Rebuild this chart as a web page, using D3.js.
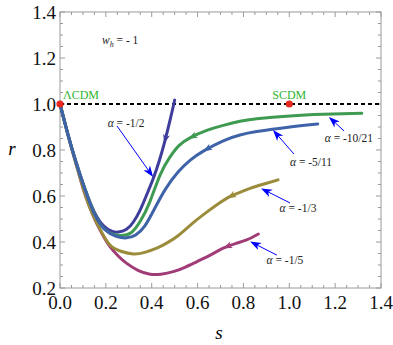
<!DOCTYPE html>
<html><head><meta charset="utf-8">
<script src="https://cdn.jsdelivr.net/npm/d3@7"></script>
<style>body{margin:0;background:#fff}svg{display:block}</style>
</head><body><svg id="c" width="393" height="345" font-family="Liberation Serif"></svg>
<script>
// ---- data ----
const xTicks = [0.0,0.2,0.4,0.6,0.8,1.0,1.2,1.4];
const yTicks = [0.2,0.4,0.6,0.8,1.0,1.2,1.4];
const seriesNames = ["-1/5","-1/3","-1/2","-10/21","-5/11"];
const seriesColors = ["#a03c78","#9b8c3c","#3e3d9c","#3f9a52","#3e63a8"];
const sMagenta = [0,0.035,0.07,0.1,0.13,0.16,0.19,0.218,0.255,0.291,0.34,0.393,0.44,0.494,0.545,0.596,0.655,0.712,0.765,0.814,0.865];
const rMagenta = [1,0.865,0.74,0.635,0.55,0.481,0.424,0.38,0.338,0.307,0.277,0.26,0.26,0.271,0.29,0.314,0.343,0.373,0.393,0.409,0.435];
const sOlive = [0,0.035,0.07,0.1,0.131,0.175,0.218,0.265,0.32,0.37,0.422,0.465,0.509,0.55,0.596,0.64,0.683,0.741,0.785,0.829,0.89,0.951];
const rOlive = [1,0.865,0.74,0.64,0.547,0.455,0.387,0.36,0.348,0.355,0.373,0.395,0.423,0.457,0.496,0.53,0.561,0.597,0.616,0.633,0.652,0.67];
const sPurple = [0,0.035,0.07,0.11,0.15,0.19,0.225,0.254,0.29,0.32,0.35,0.38,0.41,0.435,0.455,0.48,0.5];
const rPurple = [1,0.867,0.748,0.628,0.53,0.47,0.447,0.443,0.455,0.487,0.54,0.61,0.685,0.76,0.83,0.93,1.017];
const sGreen = [0,0.035,0.07,0.11,0.15,0.19,0.235,0.269,0.31,0.35,0.39,0.436,0.48,0.52,0.567,0.64,0.712,0.785,0.858,1.003,1.148,1.316];
const rGreen = [1,0.866,0.746,0.626,0.525,0.46,0.433,0.428,0.44,0.49,0.57,0.69,0.77,0.82,0.853,0.885,0.907,0.925,0.936,0.948,0.955,0.96];
const sBlue = [0,0.035,0.07,0.11,0.15,0.195,0.245,0.291,0.33,0.37,0.41,0.46,0.516,0.567,0.625,0.712,0.785,0.858,1.003,1.124];
const rBlue = [1,0.866,0.746,0.626,0.522,0.455,0.425,0.418,0.43,0.47,0.54,0.63,0.705,0.755,0.795,0.84,0.865,0.88,0.9,0.913];
const arrowS = [0.712,0.73,0.455,0.56,0.625];
// annotations: label centre, arrow start, arrow tip (data units)
const annLabelS = [0.981,1.038,0.288,1.26,1.095];
const annLabelR = [0.322,0.548,0.917,0.852,0.748];
const annFromS = [0.946,1.003,0.249,1.239,1.02];
const annFromR = [0.343,0.57,0.904,0.883,0.783];
const annToS = [0.829,0.877,0.406,1.173,0.929];
const annToR = [0.402,0.633,0.683,0.943,0.887];
const pointNames = ["\u039BCDM","SCDM"];
const pointS = [0,1];
const pointR = [1,1];

// ---- layout ----
const W=393,H=345,m={l:60,r:12,t:12,b:57};
const svg=d3.select("#c");
svg.append("rect").attr("width",W).attr("height",H).attr("fill","#fff");
const x=d3.scaleLinear().domain([0,1.4]).range([m.l,W-m.r]);
const y=d3.scaleLinear().domain([0.2,1.4]).range([H-m.b,m.t]);
const minorX=d3.range(0,1.4001,0.05), minorY=d3.range(0.2,1.4001,0.05);

const g=svg.append("g");
g.append("rect").attr("x",x(0)).attr("y",y(1.4)).attr("width",x(1.4)-x(0)).attr("height",y(0.2)-y(1.4))
 .attr("fill","none").attr("stroke","#9a9a9a").attr("stroke-width",1);
function isMajor(v,arr){return arr.some(t=>Math.abs(t-v)<1e-6);}
const tc="#9a9a9a";
minorX.forEach(v=>{const L=isMajor(v,xTicks)?5:3;
  g.append("line").attr("x1",x(v)).attr("x2",x(v)).attr("y1",y(0.2)).attr("y2",y(0.2)-L).attr("stroke",tc);
  g.append("line").attr("x1",x(v)).attr("x2",x(v)).attr("y1",y(1.4)).attr("y2",y(1.4)+L).attr("stroke",tc);});
minorY.forEach(v=>{const L=isMajor(v,yTicks)?5:3;
  g.append("line").attr("y1",y(v)).attr("y2",y(v)).attr("x1",x(0)).attr("x2",x(0)+L).attr("stroke",tc);
  g.append("line").attr("y1",y(v)).attr("y2",y(v)).attr("x1",x(1.4)).attr("x2",x(1.4)-L).attr("stroke",tc);});
xTicks.forEach(v=>g.append("text").attr("x",x(v)).attr("y",y(0.2)+21).attr("text-anchor","middle")
  .attr("font-size",19).attr("fill","#111").text(v.toFixed(1)));
yTicks.forEach(v=>g.append("text").attr("x",x(0)-4).attr("y",y(v)+7).attr("text-anchor","end")
  .attr("font-size",19).attr("fill","#111").text(v.toFixed(1)));
svg.append("text").attr("x",219).attr("y",339).attr("text-anchor","middle").attr("font-size",19)
  .attr("font-style","italic").text("s");
svg.append("text").attr("x",12).attr("y",155).attr("text-anchor","middle").attr("font-size",19)
  .attr("font-style","italic").text("r");

g.append("line").attr("x1",x(0)).attr("x2",x(1.4)).attr("y1",y(1)).attr("y2",y(1))
 .attr("stroke","#000").attr("stroke-width",2).attr("stroke-dasharray","4,3");

const S=[sMagenta,sOlive,sPurple,sGreen,sBlue], R=[rMagenta,rOlive,rPurple,rGreen,rBlue];
const line=d3.line().x(d=>x(d[0])).y(d=>y(d[1])).curve(d3.curveNatural);
function arrowHead(sel,tip,dir,len,wid,notch,color){
  const a=Math.atan2(dir[1],dir[0])*180/Math.PI;
  sel.append("path").attr("d",`M0,0L${-len},${-wid/2}L${-len+notch},0L${-len},${wid/2}Z`)
   .attr("fill",color).attr("transform",`translate(${tip[0]},${tip[1]}) rotate(${a})`);
}
S.forEach((s,i)=>{
  const pts=s.map((v,j)=>[v,R[i][j]]);
  const p=g.append("path").attr("d",line(pts)).attr("fill","none").attr("stroke",seriesColors[i])
    .attr("stroke-width",3).attr("stroke-linecap","round");
  const node=p.node(), total=node.getTotalLength();
  let best=0,bd=1e9;
  for(let L=0;L<=total;L+=0.5){const q=node.getPointAtLength(L);const d=Math.abs(q.x-x(arrowS[i]));if(d<bd&&q.x>x(0.3)){bd=d;best=L;}}
  const t=node.getPointAtLength(best), b=node.getPointAtLength(Math.min(total,best+6));
  arrowHead(g,[t.x,t.y],[t.x-b.x,t.y-b.y],9,7,2.5,seriesColors[i]);
});

pointS.forEach((v,i)=>{
  g.append("circle").attr("cx",x(v)).attr("cy",y(pointR[i])).attr("r",3.6).attr("fill","#e8281e");
  g.append("text").attr("x",i===0?x(v)+3:x(v)).attr("y",y(pointR[i])-5).attr("text-anchor",i===0?"start":"middle")
   .attr("font-size",12).attr("fill","#2fb52f").text(pointNames[i]);
});

seriesNames.forEach((nm,i)=>{
  const f=[x(annFromS[i]),y(annFromR[i])], t=[x(annToS[i]),y(annToR[i])];
  const dx=t[0]-f[0],dy=t[1]-f[1],dl=Math.hypot(dx,dy);
  g.append("line").attr("x1",f[0]).attr("y1",f[1]).attr("x2",t[0]-dx/dl*6).attr("y2",t[1]-dy/dl*6)
   .attr("stroke","#0000ff").attr("stroke-width",1);
  arrowHead(g,t,[dx,dy],11,8,3,"#0000ff");
  const tx=g.append("text").attr("x",x(annLabelS[i])).attr("y",y(annLabelR[i])+4).attr("text-anchor","middle")
   .attr("font-size",11.5).attr("fill","#222");
  tx.append("tspan").attr("font-style","italic").text("\u03B1");
  tx.append("tspan").text(" = "+nm);
});
const wt=svg.append("text").attr("x",102).attr("y",44).attr("font-size",11.5).attr("fill","#222");
wt.append("tspan").attr("font-style","italic").text("w");
wt.append("tspan").attr("font-style","italic").attr("font-size",8).attr("dy",3).text("h");
wt.append("tspan").attr("dy",-3).text(" = - 1");
</script></body></html>
